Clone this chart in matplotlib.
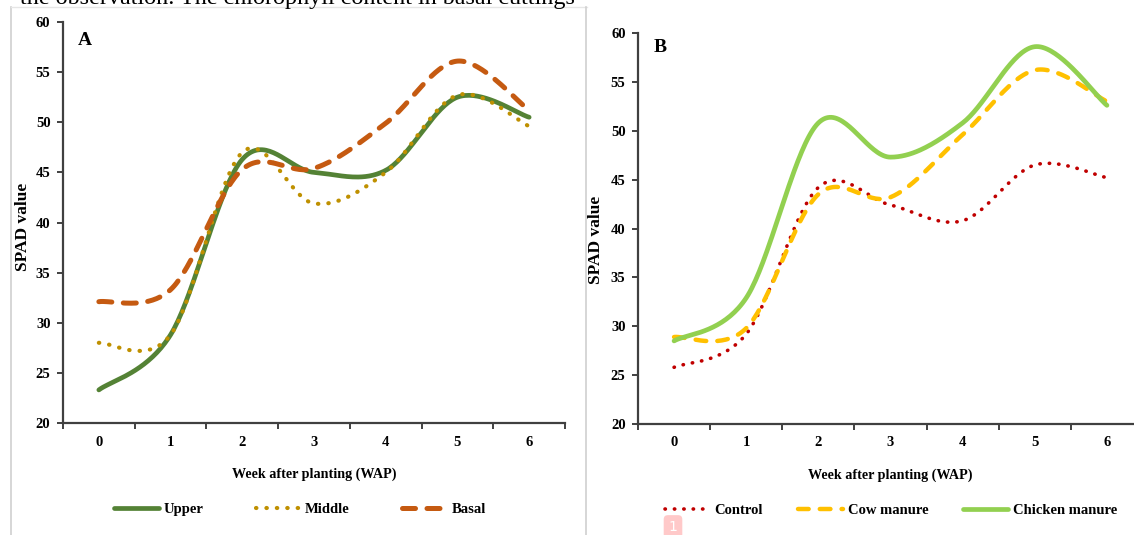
import numpy as np
import matplotlib
matplotlib.use("Agg")
import matplotlib.pyplot as plt
from matplotlib.lines import Line2D

plt.rcParams['font.family'] = ['Liberation Serif', 'DejaVu Serif']
plt.rcParams['font.weight'] = 'bold'

weeks = [0, 1, 2, 3, 4, 5, 6]

# Panel A: cutting position
upper = [23.3, 28.8, 46.3, 45.0, 45.2, 52.5, 50.5]
middle = [28.0, 28.8, 47.0, 41.9, 45.0, 52.7, 49.6]
basal = [32.1, 33.3, 45.3, 45.4, 49.9, 56.1, 51.2]

# Panel B: manure treatment
control = [25.8, 29.2, 44.2, 42.4, 40.8, 46.5, 45.2]
cow_manure = [28.9, 29.8, 43.5, 43.2, 49.6, 56.2, 53.0]
chicken_manure = [28.5, 32.9, 50.8, 47.3, 50.8, 58.6, 52.6]

W, H = 1134, 535


def excel_smooth(x, y, n=40):
    # Excel style smoothed line: Bezier through points, tangents from neighbours / 6
    pts = np.column_stack([x, y]).astype(float)
    ext = np.vstack([pts[0], pts, pts[-1]])
    t = np.linspace(0, 1, n)[:, None]
    out = []
    for i in range(len(pts) - 1):
        p0, p1 = ext[i + 1], ext[i + 2]
        c1 = p0 + (ext[i + 2] - ext[i]) / 6
        c2 = p1 - (ext[i + 3] - ext[i + 1]) / 6
        seg = (1 - t)**3 * p0 + 3 * (1 - t)**2 * t * c1 + 3 * (1 - t) * t**2 * c2 + t**3 * p1
        out.append(seg if i == 0 else seg[1:])
    seg = np.vstack(out)
    return seg[:, 0], seg[:, 1]


def px_axes(fig, x0, y0, x1, y1):
    return fig.add_axes([x0 / W, 1 - y1 / H, (x1 - x0) / W, (y1 - y0) / H])


def style_axes(ax, letter, letter_y):
    ax.set_xlim(-0.5, 6.5)
    ax.set_ylim(20, 60)
    ax.set_yticks(range(20, 61, 5))
    ax.set_xticks(weeks)
    ax.set_xticks(np.arange(-0.5, 7, 1), minor=True)
    ax.tick_params(axis='x', which='major', length=0, pad=9, labelsize=10.5)
    ax.tick_params(axis='x', which='minor', length=4, width=1.4, color='#404040', direction='out')
    ax.tick_params(axis='y', length=4, width=1.4, color='#404040', labelsize=10.5, pad=5)
    for s in ['top', 'right']:
        ax.spines[s].set_visible(False)
    for s in ['left', 'bottom']:
        ax.spines[s].set_color('#404040')
        ax.spines[s].set_linewidth(1.6)
    for lab in ax.get_xticklabels() + ax.get_yticklabels():
        lab.set_fontweight('bold')
    ax.set_xlabel('Week after planting (WAP)', fontsize=10.2, fontweight='bold', labelpad=14)
    ax.set_ylabel('SPAD value', fontsize=12.5, fontweight='bold')
    ax.text(0.03, letter_y, letter, transform=ax.transAxes, fontsize=14, fontweight='bold',
            va='top', ha='left')


fig = plt.figure(figsize=(W / 100, H / 100), dpi=100)

# panel frames
fig.add_artist(Line2D([11 / W, 11 / W], [0, 1 - 7 / H], color='#D0D0D0', lw=1.2))
fig.add_artist(Line2D([11 / W, 587 / W], [1 - 7 / H, 1 - 7 / H], color='#E6E6E6', lw=1.0))
fig.add_artist(Line2D([586 / W, 586 / W], [0, 1 - 7 / H], color='#D0D0D0', lw=1.2))

# cut-off paragraph text at the top
fig.text(20 / W, 1 - 4 / H, 'the observation. The chlorophyll content in basal cuttings',
         fontsize=17.4, fontweight='normal', va='baseline', ha='left')

axA = px_axes(fig, 63, 22, 565, 423)
style_axes(axA, 'A', 0.975)
axA.yaxis.set_label_coords(-0.064, 0.49)
xs, ys = excel_smooth(weeks, upper)
axA.plot(xs, ys, color='#548235', lw=3.4, solid_capstyle='round', label='Upper')
xs, ys = excel_smooth(weeks, middle)
axA.plot(xs, ys, color='#BF9000', lw=3.0, linestyle=(0, (0.1, 2.4)), dash_capstyle='round',
         label='Middle')
xs, ys = excel_smooth(weeks, basal)
axA.plot(xs, ys, color='#C55A11', lw=3.6, linestyle=(0, (2.6, 2.3)), dash_capstyle='round',
         label='Basal')
axA.legend(loc='center', bbox_to_anchor=(0.472, -0.215), ncol=3, frameon=False,
           handlelength=3.1, columnspacing=3.6, handletextpad=0.3,
           prop={'weight': 'bold', 'size': 10.5})

axB = px_axes(fig, 638, 33, 1143, 424)
style_axes(axB, 'B', 0.985)
axB.yaxis.set_label_coords(-0.067, 0.47)
xs, ys = excel_smooth(weeks, control)
axB.plot(xs, ys, color='#C00000', lw=2.6, linestyle=(0, (0.1, 2.5)), dash_capstyle='round',
         label='Control')
xs, ys = excel_smooth(weeks, cow_manure)
axB.plot(xs, ys, color='#FFC000', lw=3.2, linestyle=(0, (2.4, 2.5)), dash_capstyle='round',
         label='Cow manure')
xs, ys = excel_smooth(weeks, chicken_manure)
axB.plot(xs, ys, color='#92D050', lw=3.4, solid_capstyle='round', label='Chicken manure')
axB.legend(loc='center', bbox_to_anchor=(0.501, -0.22), ncol=3, frameon=False,
           handlelength=3.1, columnspacing=2.4, handletextpad=0.3,
           prop={'weight': 'bold', 'size': 10.5})

# small page marker badge
fig.text(673 / W, 1 - 527 / H, '1', color='white', fontsize=10, ha='center', va='center',
         fontweight='normal', family='DejaVu Sans',
         bbox=dict(boxstyle='round,pad=0.35,rounding_size=0.3', fc='#FFC9C9', ec='none'))

fig.savefig('out.png', dpi=100)
